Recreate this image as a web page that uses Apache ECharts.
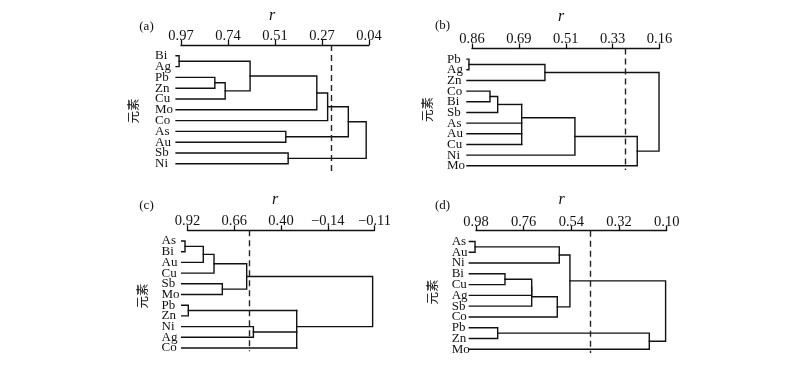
<!DOCTYPE html>
<html>
<head>
<meta charset="utf-8">
<script src="https://cdn.jsdelivr.net/npm/echarts@6/dist/echarts.min.js"></script>
<style>
html,body{margin:0;padding:0;background:#fff;}
#chart{width:800px;height:367px;}
</style>
</head>
<body>
<div id="chart"></div>
<script>
// ---------- DATA ----------
// Leaf order (top to bottom) for each dendrogram
const leavesA = ['Bi','Ag','Pb','Zn','Cu','Mo','Co','As','Au','Sb','Ni'];
const leavesB = ['Pb','Ag','Zn','Co','Bi','Sb','As','Au','Cu','Ni','Mo'];
const leavesC = ['As','Bi','Au','Cu','Sb','Mo','Pb','Zn','Ni','Ag','Co'];
const leavesD = ['As','Au','Ni','Bi','Cu','Ag','Sb','Co','Pb','Zn','Mo'];

// r tick labels (left to right)
const ticksA = ['0.97','0.74','0.51','0.27','0.04'];
const ticksB = ['0.86','0.69','0.51','0.33','0.16'];
const ticksC = ['0.92','0.66','0.40','\u22120.14','\u22120.11'];
const ticksD = ['0.98','0.76','0.54','0.32','0.10'];

// Merges: [children, level in tick-position units]; '#k' refers to merge k
const mergesA = [
  [['Bi','Ag'], -0.04], [['Pb','Zn'], 0.72], [['#1','Cu'], 0.94], [['#0','#2'], 1.47],
  [['#3','Mo'], 2.89], [['#4','Co'], 3.12], [['As','Au'], 2.23], [['Sb','Ni'], 2.28],
  [['#5','#6'], 3.56], [['#8','#7'], 3.94]
];
const mergesB = [
  [['Pb','Ag'], -0.065], [['#0','Zn'], 1.556], [['Co','Bi'], 0.384], [['#2','Sb'], 0.548],
  [['#3','As','Au','Cu'], 1.06], [['#4','Ni'], 2.196], [['#5','Mo'], 3.525], [['#1','#6'], 3.99]
];
const mergesC = [
  [['As','Bi'], -0.053], [['#0','Au'], 0.338], [['#1','Cu'], 0.567], [['Sb','Mo'], 0.745],
  [['#2','#3'], 1.266], [['Pb','Zn'], 0.017], [['Ni','Ag'], 1.41], [['#5','#6','Co'], 2.336],
  [['#4','#7'], 3.96]
];
const mergesD = [
  [['As','Au'], -0.02], [['#0','Ni'], 1.747], [['Bi','Cu'], 0.608], [['#2','Ag'], 1.168],
  [['#3','Sb'], 1.168], [['#4','Co'], 1.705], [['#1','#5'], 1.97], [['Pb','Zn'], 0.455],
  [['#7','Mo'], 3.635], [['#6','#8'], 3.977]
];

// leaf line start level and cut (dashed) level
const leafStartA = -0.105, leafStartB = -0.107, leafStartC = -0.124, leafStartD = -0.14;
const cutA = 3.19, cutB = 3.277, cutC = 1.326, cutD = 2.405;

// ---------- LAYOUT ----------
const panels = [
  {tag:'(a)', leaves:leavesA, ticks:ticksA, merges:mergesA, leafStart:leafStartA, cut:cutA,
   left:181, top:45, width:188, ymax:10.75, unit:10.8, labMargin:26,
   tagPos:[146.5,27], rPos:[272,16], elPos:[133,111]},
  {tag:'(b)', leaves:leavesB, ticks:ticksB, merges:mergesB, leafStart:leafStartB, cut:cutB,
   left:472, top:48.5, width:187.5, ymax:10.4, unit:10.66, labMargin:25,
   tagPos:[442.5,26], rPos:[561,17], elPos:[427.5,109.5]},
  {tag:'(c)', leaves:leavesC, ticks:ticksC, merges:mergesC, leafStart:leafStartC, cut:cutC,
   left:187.5, top:230.3, width:187, ymax:10.3, unit:10.7, labMargin:26,
   tagPos:[146.5,206], rPos:[275,200], elPos:[142,296]},
  {tag:'(d)', leaves:leavesD, ticks:ticksD, merges:mergesD, leafStart:leafStartD, cut:cutD,
   left:476, top:230.7, width:190.7, ymax:10.35, unit:10.78, labMargin:24.3,
   tagPos:[442.5,206], rPos:[561.5,200], elPos:[432.5,292]}
];

function buildTree(leaves, merges, leafStart) {
  const nodes = {};
  leaves.forEach((n, i) => { nodes[n] = {x: leafStart, y: i, leaves: [i]}; });
  const segs = [];
  merges.forEach((m, k) => {
    const kids = m[0], h = m[1];
    const cs = kids.map(c => nodes[c]);
    const ys = cs.map(c => c.y);
    if (cs.length === 2) {
      segs.push({coords: [[cs[0].x, cs[0].y], [h, cs[0].y], [h, cs[1].y], [cs[1].x, cs[1].y]]});
    } else {
      cs.forEach(c => segs.push({coords: [[c.x, c.y], [h, c.y]]}));
      segs.push({coords: [[h, Math.min(...ys)], [h, Math.max(...ys)]]});
    }
    const all = cs.flatMap(c => c.leaves);
    const y = cs.length === 2 ? (ys[0] + ys[1]) / 2 : all.reduce((a, b) => a + b, 0) / all.length;
    nodes['#' + k] = {x: h, y: y, leaves: all};
  });
  return segs;
}

const FONT = "'Liberation Serif', 'DejaVu Serif', serif";
const INK = '#111';
const grids = [], xAxes = [], yAxes = [], series = [], graphics = [];

panels.forEach((p, i) => {
  grids.push({left: p.left, top: p.top, width: p.width, height: (p.ymax + 1) * p.unit, containLabel: false});
  xAxes.push({
    type: 'value', gridIndex: i, position: 'top', min: 0, max: 4, interval: 1,
    axisLine: {show: true, onZero: false, lineStyle: {color: INK, width: 1.3}},
    axisTick: {show: true, inside: false, length: 5, lineStyle: {color: INK, width: 1.3}},
    axisLabel: {formatter: v => p.ticks[Math.round(v)] ?? '', fontSize: 14.5, margin: 1.5, color: INK, fontFamily: FONT},
    splitLine: {show: false}
  });
  yAxes.push({
    type: 'value', gridIndex: i, inverse: true, min: -1, max: p.ymax, interval: 1,
    axisLine: {show: false, onZero: false}, axisTick: {show: false}, splitLine: {show: false},
    axisLabel: {formatter: v => (Number.isInteger(v) && p.leaves[v]) ? p.leaves[v] : '',
      fontSize: 13, margin: p.labMargin, align: 'left', color: INK, fontFamily: FONT,
      showMinLabel: false, showMaxLabel: false}
  });
  series.push({
    type: 'lines', coordinateSystem: 'cartesian2d', xAxisIndex: i, yAxisIndex: i,
    polyline: true, clip: false, silent: true, animation: false,
    lineStyle: {color: INK, width: 1.4, opacity: 1, curveness: 0, cap: 'square', join: 'miter'},
    data: buildTree(p.leaves, p.merges, p.leafStart)
  });
  series.push({
    type: 'lines', coordinateSystem: 'cartesian2d', xAxisIndex: i, yAxisIndex: i,
    polyline: false, clip: false, silent: true, animation: false,
    lineStyle: {color: '#222', width: 1.4, opacity: 1, type: [6, 4], curveness: 0},
    data: [{coords: [[p.cut, -1], [p.cut, p.ymax]]}]
  });
  graphics.push({type: 'text', x: p.tagPos[0], y: p.tagPos[1], silent: true,
    style: {text: p.tag, font: "13px " + FONT, fill: INK, textAlign: 'center', textVerticalAlign: 'middle'}});
  graphics.push({type: 'text', x: p.rPos[0], y: p.rPos[1], silent: true,
    style: {text: 'r', font: "italic 16px " + FONT, fill: INK, textAlign: 'center', textVerticalAlign: 'middle'}});
  graphics.push({type: 'text', x: p.elPos[0], y: p.elPos[1], rotation: Math.PI / 2, silent: true,
    style: {text: '元素', font: "12.5px 'Noto Sans CJK SC'", fill: INK, textAlign: 'center', textVerticalAlign: 'middle'}});
});

const chart = echarts.init(document.getElementById('chart'), null, {renderer: 'canvas'});
chart.setOption({
  backgroundColor: '#fff',
  animation: false,
  textStyle: {fontFamily: FONT},
  grid: grids, xAxis: xAxes, yAxis: yAxes, series: series, graphic: graphics
});
</script>
</body>
</html>
